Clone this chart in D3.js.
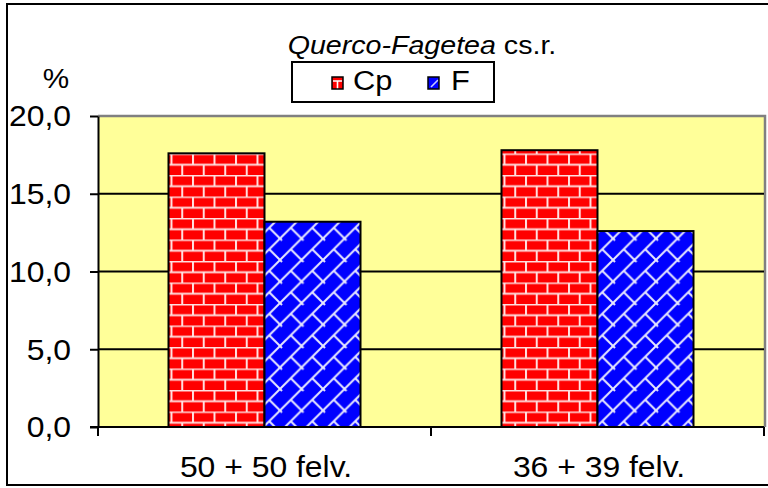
<!DOCTYPE html>
<html>
<head>
<meta charset="utf-8">
<script src="https://cdn.jsdelivr.net/npm/d3@7"></script>
<style>
  html, body { margin: 0; padding: 0; background: #fff; }
  svg { display: block; font-family: "Liberation Sans", Arial, sans-serif; }
</style>
</head>
<body>
<svg id="chart" width="768" height="488"></svg>
<script>
// Chart data
const categories = ["50 + 50 felv.", "36 + 39 felv."];
const seriesNames = ["Cp", "F"];
const cpValues = [17.6, 17.8];
const fValues = [13.2, 12.6];
const yTickValues = [0, 5, 10, 15, 20];

const rows = categories.map((c, i) => ({ category: c, Cp: cpValues[i], F: fValues[i] }));

const svg = d3.select("#chart");
const W = 768, H = 488;
const plot = { left: 98, right: 764, top: 116, bottom: 427 };
const fontSize = 29;
const stretch = 1.1; // slightly wide lettering

// Places a text element at (x, y) with the wide lettering
function placeText(sel, px, py) {
  return sel.attr("x", 0).attr("y", 0)
    .attr("transform", `translate(${px},${py}) scale(${stretch},1)`);
}

// Fill patterns: red bricks and blue diagonal bricks
const defs = svg.append("defs");
const T = 21.5;

const brick = defs.append("pattern")
  .attr("id", "brick").attr("patternUnits", "userSpaceOnUse")
  .attr("width", T).attr("height", T).attr("x", 2).attr("y", 3);
brick.append("rect").attr("width", T).attr("height", T).attr("fill", "#ff0000");
brick.append("path")
  .attr("d", `M0,0.5H${T} M0,${T / 2 + 0.5}H${T} M1,0V${T / 2} M${T / 2 + 1},${T / 2}V${T}`)
  .attr("stroke", "#ffe0e0").attr("stroke-width", 2).attr("fill", "none");

const dbrick = defs.append("pattern")
  .attr("id", "dbrick").attr("patternUnits", "userSpaceOnUse")
  .attr("width", T).attr("height", T).attr("x", 4).attr("y", 2);
dbrick.append("rect").attr("width", T).attr("height", T).attr("fill", "#0000ff");
dbrick.append("path")
  .attr("d", `M-2,${T + 2}L${T + 2},-2 M${T / 2},${T / 2}L${T + 2},${T + 2} M-2,-2L2,2`)
  .attr("stroke", "#e8e8ff").attr("stroke-width", 2).attr("fill", "none");

// Small swatches for the legend
const swBrick = defs.append("pattern")
  .attr("id", "swBrick").attr("patternUnits", "objectBoundingBox")
  .attr("width", 1).attr("height", 1);
swBrick.append("rect").attr("width", 11).attr("height", 12).attr("fill", "#ff0000");
swBrick.append("path").attr("d", "M1,4H10 M5.5,4V12")
  .attr("stroke", "#fff").attr("stroke-width", 1.6).attr("fill", "none");

const swDiag = defs.append("pattern")
  .attr("id", "swDiag").attr("patternUnits", "objectBoundingBox")
  .attr("width", 1).attr("height", 1);
swDiag.append("rect").attr("width", 12).attr("height", 12).attr("fill", "#0000ff");
swDiag.append("path").attr("d", "M3,10L10,3")
  .attr("stroke", "#c8c8ff").attr("stroke-width", 1.6).attr("fill", "none");

const fills = { Cp: "url(#brick)", F: "url(#dbrick)" };
const swatches = { Cp: "url(#swBrick)", F: "url(#swDiag)" };

// Outer chart frame
svg.append("rect")
  .attr("x", 7).attr("y", 4).attr("width", W + 10).attr("height", H - 7)
  .attr("fill", "#fff").attr("stroke", "#000").attr("stroke-width", 2);

// Scales
const x = d3.scaleBand().domain(categories)
  .range([plot.left, plot.right])
  .paddingInner(0.4234).paddingOuter(0.4234 / 2);
const xs = d3.scaleBand().domain(seriesNames).range([0, x.bandwidth()]);
const y = d3.scaleLinear().domain([0, 20]).range([plot.bottom, plot.top]);

// Plot area
svg.append("rect")
  .attr("x", plot.left).attr("y", plot.top)
  .attr("width", plot.right - plot.left).attr("height", plot.bottom - plot.top)
  .attr("fill", "#ffff99");
svg.append("path")
  .attr("d", `M${plot.left},${plot.top}H${plot.right + 1}V${plot.bottom}`)
  .attr("stroke", "#808080").attr("stroke-width", 2.5).attr("fill", "none");

// Horizontal gridlines
svg.append("g").selectAll("line")
  .data(yTickValues.filter(v => v > 0 && v < 20))
  .join("line")
  .attr("x1", plot.left).attr("x2", plot.right)
  .attr("y1", d => y(d)).attr("y2", d => y(d))
  .attr("stroke", "#000").attr("stroke-width", 2);

// Bars
svg.append("g").selectAll("g")
  .data(rows)
  .join("g")
  .attr("transform", d => `translate(${x(d.category)},0)`)
  .selectAll("rect")
  .data(d => seriesNames.map(s => ({ key: s, value: d[s] })))
  .join("rect")
  .attr("x", d => xs(d.key))
  .attr("y", d => y(d.value))
  .attr("width", xs.bandwidth())
  .attr("height", d => y(0) - y(d.value))
  .attr("fill", d => fills[d.key])
  .attr("stroke", "#000").attr("stroke-width", 2);

// Y axis
const yAxis = svg.append("g")
  .attr("transform", `translate(${plot.left},0)`)
  .call(d3.axisLeft(y)
    .tickValues(yTickValues)
    .tickFormat(d => d3.format(".1f")(d).replace(".", ","))
    .tickSize(8).tickSizeOuter(0).tickPadding(19));
yAxis.select(".domain").attr("stroke", "#000").attr("stroke-width", 2);
yAxis.selectAll(".tick line").attr("stroke", "#000").attr("stroke-width", 2);
yAxis.selectAll(".tick text")
  .attr("font-size", fontSize).attr("fill", "#000")
  .attr("font-family", "Liberation Sans, Arial, sans-serif")
  .each(function () {
    const t = d3.select(this);
    placeText(t, -27, 0).attr("dy", "0.34em");
  });

// X axis: labels centred in each category, tick marks at category boundaries
const xAxis = svg.append("g")
  .attr("transform", `translate(0,${plot.bottom})`)
  .call(d3.axisBottom(x).tickSize(0).tickSizeOuter(0).tickPadding(30));
xAxis.select(".domain").remove();
xAxis.selectAll(".tick text")
  .attr("font-size", fontSize).attr("fill", "#000")
  .attr("font-family", "Liberation Sans, Arial, sans-serif")
  .each(function () {
    placeText(d3.select(this), 1.5, 50).attr("dy", null);
  });
xAxis.append("line")
  .attr("x1", plot.left - 8).attr("x2", plot.right)
  .attr("stroke", "#000").attr("stroke-width", 2);
xAxis.selectAll(".bound")
  .data(d3.range(categories.length + 1))
  .join("line").attr("class", "bound")
  .attr("x1", i => plot.left + i * x.step())
  .attr("x2", i => plot.left + i * x.step())
  .attr("y1", 0).attr("y2", 9)
  .attr("stroke", "#000").attr("stroke-width", 2);

// Unit label
placeText(svg.append("text"), 56, 88)
  .attr("text-anchor", "middle")
  .attr("font-size", fontSize - 2).text("%");

// Title
const title = placeText(svg.append("text"), 422, 54)
  .attr("text-anchor", "middle")
  .attr("font-size", fontSize - 3);
title.append("tspan").attr("font-style", "italic").text("Querco-Fagetea");
title.append("tspan").text(" cs.r.");

// Legend
const legend = svg.append("g");
legend.append("rect")
  .attr("x", 292).attr("y", 62).attr("width", 202).attr("height", 40)
  .attr("fill", "#fff").attr("stroke", "#000").attr("stroke-width", 2);
const legendPos = { Cp: 332, F: 428 };
const items = legend.selectAll("g.item")
  .data(seriesNames)
  .join("g").attr("class", "item")
  .attr("transform", d => `translate(${legendPos[d]},77)`);
items.append("rect")
  .attr("width", 11).attr("height", 12)
  .attr("fill", d => swatches[d])
  .attr("stroke", "#000").attr("stroke-width", 1.5);
items.append("text")
  .each(function (d) {
    placeText(d3.select(this), d === "Cp" ? 21 : 23, 13);
  })
  .attr("font-size", fontSize - 1).text(d => d);
</script>
</body>
</html>
